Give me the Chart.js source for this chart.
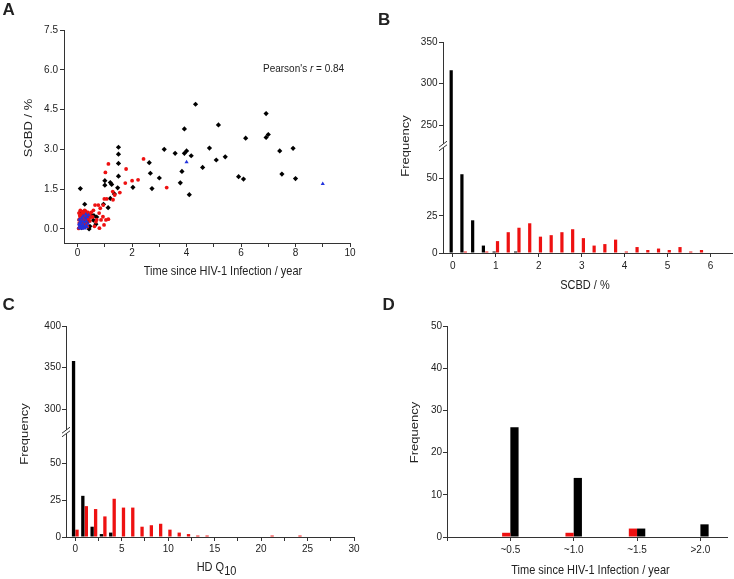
<!DOCTYPE html>
<html>
<head>
<meta charset="utf-8">
<script src="https://cdn.jsdelivr.net/npm/chart.js@4.4.1/dist/chart.umd.min.js"></script>
<style>
  html, body { margin: 0; padding: 0; background: #fff; }
  #wrap { position: relative; width: 734px; height: 579px; }
  #wrap canvas { position: absolute; left: 0; top: 0; }
</style>
</head>
<body>
<div id="wrap">
  <canvas id="chart_a" width="734" height="579"></canvas>
  <canvas id="chart_b" width="734" height="579"></canvas>
  <canvas id="chart_c" width="734" height="579"></canvas>
  <canvas id="chart_d" width="734" height="579"></canvas>
</div>
<script>
// Panel A: [time since infection (year), SCBD (%)]
const blackPointsA = [
  [0.1,1.52],[1.5,3.08],[1.5,2.82],[1.5,2.47],[1.5,1.99],[1.47,1.55],[1.35,1.32],[1.2,1.15],
  [1.0,1.82],[1.0,1.65],[1.2,1.75],[1.25,1.68],[1.12,0.8],[0.95,0.93],[2.03,1.57],[2.63,2.5],
  [2.67,2.1],[2.73,1.52],[3.0,1.92],[3.18,3.0],[3.58,2.85],[3.77,1.74],[3.83,2.17],[3.92,3.77],
  [3.92,2.85],[4.0,2.94],[4.17,2.76],[4.1,1.29],[4.33,4.7],[4.59,2.32],[4.84,3.05],[5.09,2.6],
  [5.17,3.92],[5.42,2.72],[5.91,1.97],[6.09,1.88],[6.17,3.42],[6.92,4.35],[6.92,3.45],[7.0,3.56],
  [7.42,2.94],[7.5,2.07],[7.91,3.04],[8.0,1.9],
  [0.26,0.93],[0.1,0.63],[0.27,0.6],[0.4,0.47],[0.5,0.52],[0.45,0.1],[0.26,0.32],[0.14,0.46],
  [0.58,0.33],[0.67,0.18],[0.42,0.0],[0.35,0.55],[0.2,0.2],[0.3,0.12],[0.6,0.5],[0.15,0.05],
  [0.38,0.3],[0.7,0.45]
];
const redPointsA = [
  [1.13,2.45],[1.02,2.13],[1.78,2.26],[2.42,2.64],[1.75,1.73],[2.0,1.82],[2.22,1.85],[3.27,1.56],
  [1.29,1.41],[1.36,1.28],[1.55,1.37],[1.3,1.1],[1.07,1.13],[0.98,1.13],[0.94,0.9],[0.76,0.9],
  [0.64,0.9],[0.83,0.78],[0.58,0.7],[0.79,0.6],[0.93,0.46],[1.04,0.34],[1.13,0.37],[0.86,0.34],
  [0.67,0.27],[0.8,0.03],[0.97,0.15],[0.55,0.45],[0.7,0.35],[0.62,0.1],
  [0.05,0.6],[0.08,0.5],[0.1,0.42],[0.12,0.3],[0.06,0.22],[0.15,0.55],[0.18,0.65],[0.2,0.48],
  [0.22,0.38],[0.25,0.58],[0.28,0.45],[0.3,0.66],[0.32,0.35],[0.35,0.5],[0.38,0.62],[0.4,0.4],
  [0.43,0.55],[0.45,0.3],[0.08,0.12],[0.12,0.08],[0.16,0.2],[0.2,0.05],[0.24,0.15],[0.28,0.25],
  [0.33,0.18],[0.36,0.08],[0.05,0.35],[0.14,0.4],[0.18,0.32],[0.26,0.7],[0.1,0.7],[0.22,0.6],
  [0.3,0.52],[0.48,0.45],[0.5,0.62],[0.04,0.02]
];
const bluePointsA = [
  [4.0,2.52],[9.0,1.7],
  [0.05,0.05],[0.08,0.15],[0.1,0.02],[0.12,0.22],[0.15,0.1],[0.18,0.3],[0.2,0.15],[0.22,0.05],
  [0.25,0.25],[0.28,0.4],[0.3,0.12],[0.32,0.3],[0.35,0.45],[0.38,0.2],[0.4,0.52],[0.06,0.35],
  [0.1,0.28],[0.14,0.4],[0.26,0.02],[0.34,0.08],[0.2,0.48],[0.05,0.18],[0.16,0.02],[0.3,0.55]
];

// Panel B: SCBD histogram, bins of 0.25 %
const scbdBins  = [0,0.25,0.5,0.75,1,1.25,1.5,1.75,2,2.25,2.5,2.75,3,3.25,3.5,3.75,4,4.25,4.5,4.75,5,5.25,5.5,5.75];
const scbdBlack = [316,53,22,5,1,0,1,0,0,0,0,0,0,0,0,0,0,0,0,0,0,0,0,0];
const scbdRed   = [0,1,0,1,8,14,17,20,11,12,14,16,10,5,6,9,1,4,2,3,2,4,1,2];

// Panel C: HD Q10 histogram
const hdBins  = [0,1,2,3,4,5,6,7,8,9,10,11,12,13,14,15,16,17,18,19,20,21,22,23,24];
const hdBlack = [358,28,7,2,3,0,0,0,0,0,0,0,0,0,0,0,0,0,0,0,0,0,0,0,0];
const hdRed   = [5,21,19,14,26,20,20,7,8,9,5,3,2,1,1,0,0,0,0,0,0,1,0,0,1];

// Panel D: frequency by time since infection
const timeGroups = ['~0.5','~1.0','~1.5','>2.0'];
const timeRed    = [1,1,2,0];
const timeBlack  = [26,14,2,3];

const FONT = "'Liberation Sans', Arial, sans-serif";
const INK = '#222';
const AXIS = '#333';
const BLACK = '#000000';
const RED = '#ee1111';
const BLUE = '#2233dd';

Chart.defaults.font.family = FONT;
Chart.defaults.font.size = 10;
Chart.defaults.color = INK;
Chart.defaults.animation = false;
Chart.defaults.plugins.legend.display = false;
Chart.defaults.plugins.tooltip.enabled = false;

const xy = pts => pts.map(p => ({ x: p[0], y: p[1] }));
const binned = (bins, vals) => bins.map((b, i) => ({ x: b, y: vals[i] }));

// texts drawn on the canvas (titles, panel letters)
const panelText = {
  id: 'panelText',
  afterDraw(chart, args, opts) {
    const ctx = chart.ctx;
    (opts.items || []).forEach(it => {
      ctx.save();
      ctx.translate(it.x, it.y);
      ctx.scale(1, it.sy || 1);
      if (it.rot) ctx.rotate(it.rot);
      ctx.fillStyle = INK;
      ctx.textBaseline = it.baseline || 'middle';
      ctx.textAlign = 'left';
      const runs = it.runs || [{ text: it.text }];
      let total = 0;
      runs.forEach(r => {
        ctx.font = (r.font || it.font || '11px') + ' ' + FONT;
        r.w = ctx.measureText(r.text).width;
        total += r.w;
      });
      let x = it.align === 'left' ? 0 : -total / 2;
      runs.forEach(r => {
        ctx.font = (r.font || it.font || '11px') + ' ' + FONT;
        ctx.fillText(r.text, x, r.dy || 0);
        x += r.w;
      });
      ctx.restore();
    });
  }
};

// "//" mark where the y axis is broken
const axisBreak = {
  id: 'axisBreak',
  afterDraw(chart, args, opts) {
    const s = chart.scales[opts.scale];
    if (!s) return;
    const ctx = chart.ctx, x = s.right, y = s.bottom;
    ctx.save();
    ctx.fillStyle = '#fff';
    ctx.fillRect(x - 1.5, y - 2, 3, 4);
    ctx.strokeStyle = AXIS;
    ctx.lineWidth = 1;
    [-1.8, 1.8].forEach(d => {
      ctx.beginPath();
      ctx.moveTo(x - 4, y + d + 3);
      ctx.lineTo(x + 4, y + d - 3);
      ctx.stroke();
    });
    ctx.restore();
  }
};

function axis(o) {
  const vertical = o.position === 'left';
  const cfg = {
    type: 'linear',
    position: o.position,
    min: o.min,
    max: o.max,
    offset: false,
    beginAtZero: false,
    stack: o.stack,
    stackWeight: o.weight,
    border: { display: true, color: AXIS, width: 1 },
    grid: { display: true, drawOnChartArea: false, drawTicks: true, tickLength: 4, color: AXIS, offset: false },
    ticks: {
      stepSize: o.step,
      padding: o.pad,
      autoSkip: false,
      maxRotation: 0,
      includeBounds: false,
      color: INK,
      font: { size: 10 },
      callback: o.fmt || (v => v)
    },
    afterFit: vertical ? (s => { s.width = o.size; }) : (s => { s.height = o.size; })
  };
  if (vertical) cfg.stacked = false;
  return cfg;
}

// A: scatter
new Chart(document.getElementById('chart_a'), {
  type: 'scatter',
  data: {
    datasets: [
      { data: xy(bluePointsA), pointStyle: 'triangle', pointRadius: 2.4, backgroundColor: BLUE, borderWidth: 0 },
      { data: xy(redPointsA), pointStyle: 'circle', pointRadius: 1.9, backgroundColor: RED, borderWidth: 0 },
      { data: xy(blackPointsA), pointStyle: 'rectRot', pointRadius: 2.6, backgroundColor: BLACK, borderWidth: 0 }
    ]
  },
  options: {
    responsive: false,
    layout: { padding: { left: 0, top: 30, right: 384, bottom: 316 } },
    scales: {
      x: axis({ position: 'bottom', min: -0.5, max: 10, step: 1, pad: 0, size: 20, fmt: v => (v % 2 === 0 ? v : '') }),
      y: axis({ position: 'left', min: -0.53, max: 7.5, step: 1.5, pad: 2, size: 64, fmt: v => v.toFixed(1) })
    },
    plugins: {
      panelText: { items: [
        { text: 'A', x: 2.5, y: 15, font: 'bold 17px', baseline: 'alphabetic', align: 'left' },
        { text: 'SCBD / %', x: 29, y: 128, rot: -Math.PI / 2, sy: 1.18 },
        { text: 'Time since HIV-1 Infection / year', x: 223, y: 271, sy: 1.18 },
        { runs: [{ text: "Pearson's ", font: '10px' }, { text: 'r', font: 'italic 10px' }, { text: ' = 0.84', font: '10px' }],
          x: 263, y: 69, align: 'left', sy: 1.15 }
      ] }
    }
  },
  plugins: [panelText]
});

// B: SCBD histogram with broken y axis
const barStyle = (color, stack, yId, cat, bar) => ({
  backgroundColor: color, borderWidth: 0, stack: stack, yAxisID: yId,
  categoryPercentage: cat, barPercentage: bar
});

new Chart(document.getElementById('chart_b'), {
  type: 'bar',
  data: {
    datasets: [
      Object.assign({ data: binned(scbdBins, scbdBlack) }, barStyle(BLACK, 'k', 'yLo', 0.63, 0.95)),
      Object.assign({ data: binned(scbdBins, scbdRed) }, barStyle(RED, 'r', 'yLo', 0.63, 0.95)),
      Object.assign({ data: binned(scbdBins, scbdBlack) }, barStyle(BLACK, 'k', 'yHi', 0.63, 0.95)),
      Object.assign({ data: binned(scbdBins, scbdRed) }, barStyle(RED, 'r', 'yHi', 0.63, 0.95))
    ]
  },
  options: {
    responsive: false,
    layout: { padding: { left: 367, top: 42, right: 2, bottom: 306 } },
    scales: {
      x: axis({ position: 'bottom', min: -0.23, max: 6.5, step: 1, pad: 3.3, size: 20 }),
      yLo: axis({ position: 'left', stack: 'freqB', weight: 107, min: 0, max: 72, step: 25, pad: 1.5, size: 76 }),
      yHi: axis({ position: 'left', stack: 'freqB', weight: 104, min: 225, max: 350, step: 50, pad: 1.5, size: 76 })
    },
    plugins: {
      axisBreak: { scale: 'yHi' },
      panelText: { items: [
        { text: 'B', x: 378, y: 25, font: 'bold 17px', baseline: 'alphabetic', align: 'left' },
        { text: 'Frequency', x: 406, y: 146, rot: -Math.PI / 2, sy: 1.18 },
        { text: 'SCBD / %', x: 585, y: 285.5, sy: 1.18 }
      ] }
    }
  },
  plugins: [panelText, axisBreak]
});

// C: HD Q10 histogram with broken y axis
new Chart(document.getElementById('chart_c'), {
  type: 'bar',
  data: {
    datasets: [
      Object.assign({ data: binned(hdBins, hdBlack) }, barStyle(BLACK, 'k', 'yLo', 0.75, 0.95)),
      Object.assign({ data: binned(hdBins, hdRed) }, barStyle(RED, 'r', 'yLo', 0.75, 0.95)),
      Object.assign({ data: binned(hdBins, hdBlack) }, barStyle(BLACK, 'k', 'yHi', 0.75, 0.95)),
      Object.assign({ data: binned(hdBins, hdRed) }, barStyle(RED, 'r', 'yHi', 0.75, 0.95))
    ]
  },
  options: {
    responsive: false,
    layout: { padding: { left: 0, top: 326, right: 380, bottom: 22 } },
    scales: {
      x: axis({ position: 'bottom', min: -1, max: 30, step: 2.5, pad: 2.5, size: 20, fmt: v => (v % 5 === 0 ? v : '') }),
      yLo: axis({ position: 'left', stack: 'freqC', weight: 105, min: 0, max: 71.4, step: 25, pad: 1, size: 66 }),
      yHi: axis({ position: 'left', stack: 'freqC', weight: 106, min: 272.8, max: 400, step: 50, pad: 1, size: 66 })
    },
    plugins: {
      axisBreak: { scale: 'yHi' },
      panelText: { items: [
        { text: 'C', x: 2.5, y: 310, font: 'bold 17px', baseline: 'alphabetic', align: 'left' },
        { text: 'Frequency', x: 25, y: 434, rot: -Math.PI / 2, sy: 1.18 },
        { runs: [{ text: 'HD Q', font: '11px' }, { text: '10', font: '11px', dy: 3.5 }], x: 216.5, y: 567.5, sy: 1.18 }
      ] }
    }
  },
  plugins: [panelText, axisBreak]
});

// D: frequency by time group
new Chart(document.getElementById('chart_d'), {
  type: 'bar',
  data: {
    datasets: [
      Object.assign({ data: timeGroups.map((g, i) => ({ x: i + 1, y: timeRed[i] })) }, barStyle(RED, 'r', 'y', 0.26, 1)),
      Object.assign({ data: timeGroups.map((g, i) => ({ x: i + 1, y: timeBlack[i] })) }, barStyle(BLACK, 'k', 'y', 0.26, 1))
    ]
  },
  options: {
    responsive: false,
    layout: { padding: { left: 367, top: 326, right: 7, bottom: 22 } },
    scales: {
      x: axis({ position: 'bottom', min: 0, max: 4.42, step: 1, pad: 3, size: 20, fmt: v => timeGroups[v - 1] || '' }),
      y: axis({ position: 'left', min: 0, max: 50, step: 10, pad: 1, size: 80 })
    },
    plugins: {
      panelText: { items: [
        { text: 'D', x: 382.5, y: 310, font: 'bold 17px', baseline: 'alphabetic', align: 'left' },
        { text: 'Frequency', x: 415, y: 432.5, rot: -Math.PI / 2, sy: 1.18 },
        { text: 'Time since HIV-1 Infection / year', x: 590.5, y: 570, sy: 1.18 }
      ] }
    }
  },
  plugins: [panelText]
});
</script>
</body>
</html>
